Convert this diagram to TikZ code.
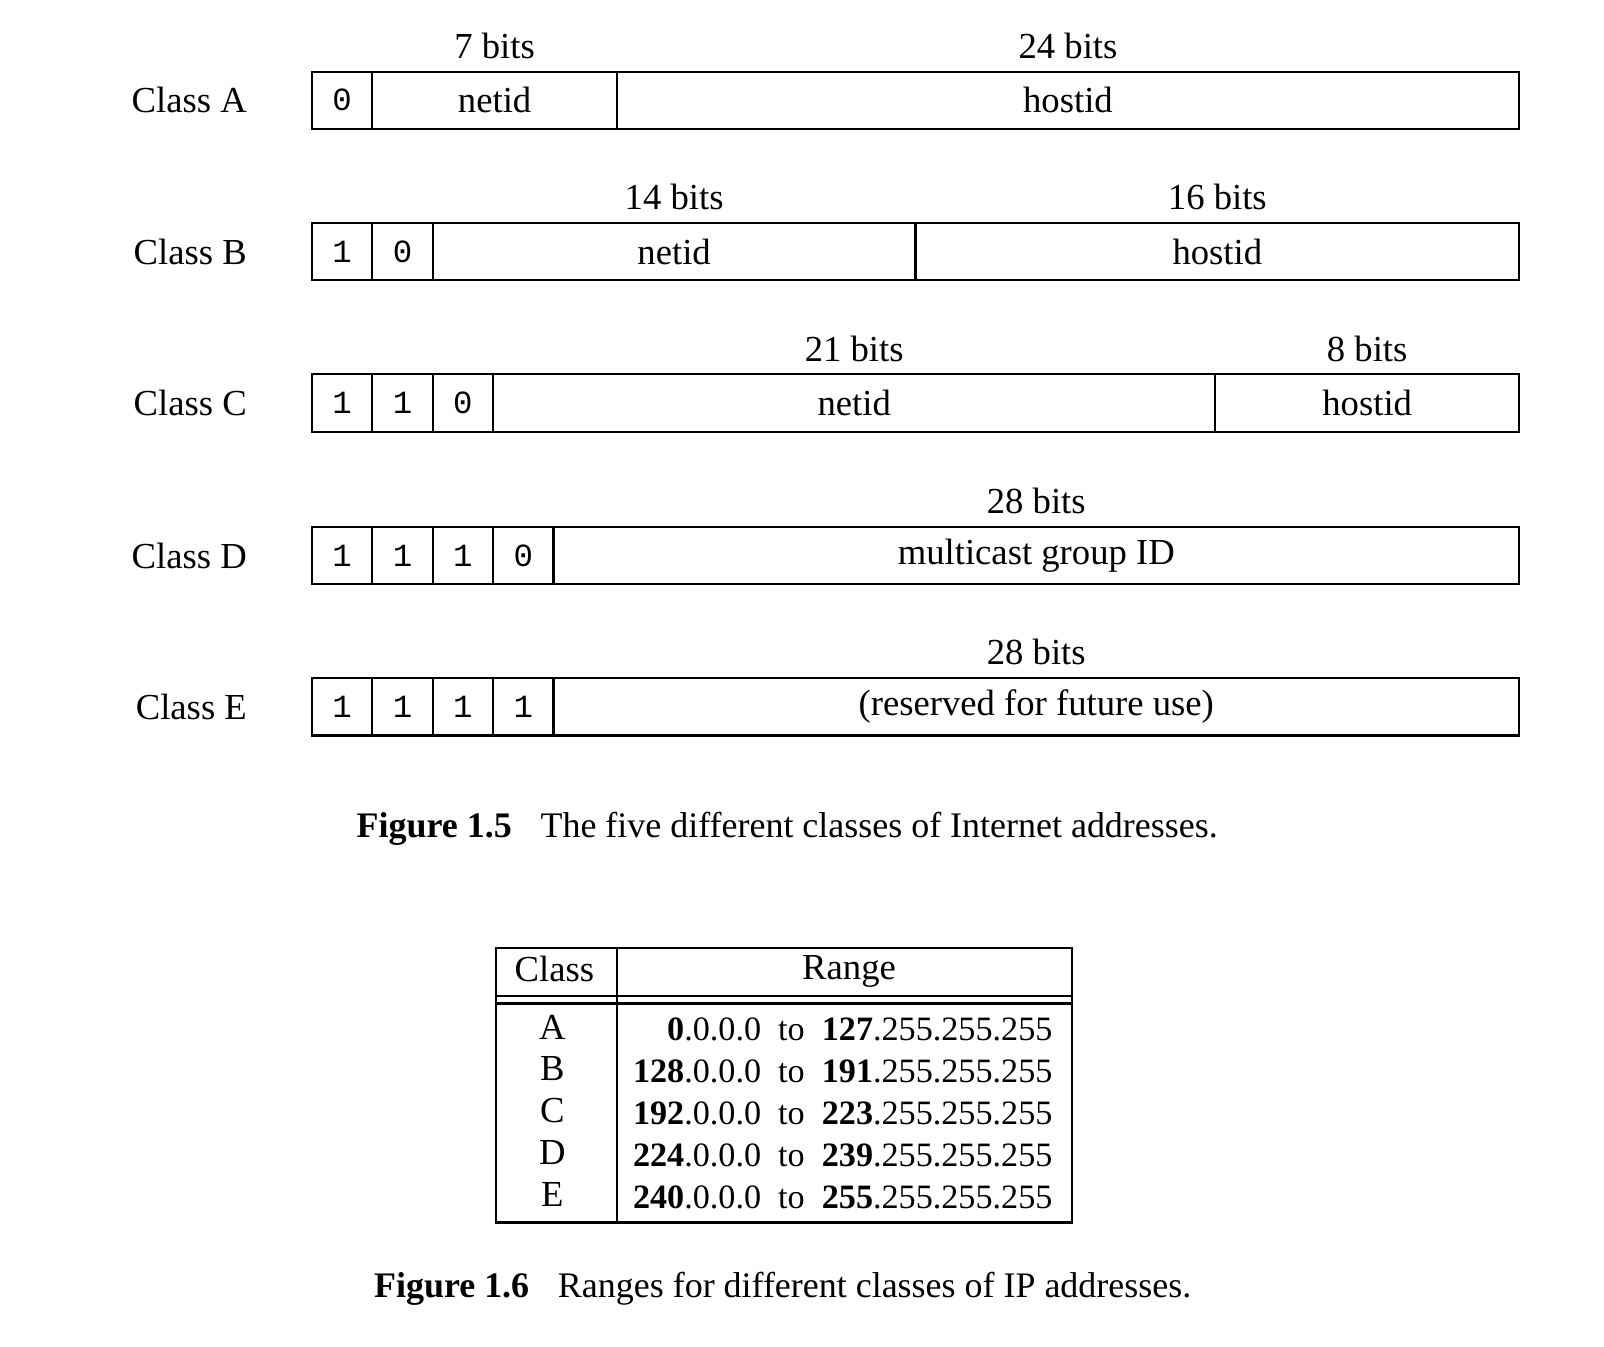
\documentclass[tikz,border=0pt]{standalone}
\usepackage{fontspec}
\setmainfont{Liberation Serif}
\setmonofont{Liberation Mono}
\usetikzlibrary{positioning}
\newcommand{\bodysize}{\fontsize{10.2}{12}\selectfont}
\newcommand{\rangesize}{\fontsize{9.5}{11}\selectfont}
\tikzset{
  bitcell/.style={draw,semithick,minimum width=5.9mm,minimum height=5.6mm,
    inner sep=0pt,outer sep=0pt,font=\fontsize{9}{11}\selectfont\ttfamily},
  field/.style={draw,semithick,minimum height=5.6mm,inner sep=0pt,outer sep=0pt,
    font=\bodysize},
  bitslabel/.style={font=\bodysize,inner sep=1pt},
  classlabel/.style={font=\bodysize,inner sep=0pt},
  tabtext/.style={font=\bodysize,inner sep=1pt},
  rangetext/.style={font=\rangesize,inner sep=1pt,anchor=east},
  figcaption/.style={font=\fontsize{10}{12}\selectfont,anchor=west,inner sep=0pt}
}

\begin{document}
\begin{tikzpicture}
  \useasboundingbox (0,0) rectangle (15.68,-13.16);
  % class A
  \node[bitcell,anchor=west] (a1) at (3.05,-0.98) {0};
  \node[field,minimum width=23.9mm,right=0pt of a1] (anet) {netid};
  \node[field,minimum width=88.2mm,right=0pt of anet] (ahost) {hostid};
  \node[classlabel,left=6.3mm of a1] (aname) {Class A};
  \node[bitslabel,above=2.4pt of anet] (anetbits) {7 bits};
  \node[bitslabel,above=2.4pt of ahost] (ahostbits) {24 bits};
  % class B
  \node[bitcell,anchor=west] (b1) at (3.05,-2.46) {1};
  \node[bitcell,right=0pt of b1] (b2) {0};
  \node[field,minimum width=47.2mm,right=0pt of b2] (bnet) {netid};
  \node[field,minimum width=59mm,right=0pt of bnet] (bhost) {hostid};
  \node[classlabel,left=6.3mm of b1] (bname) {Class B};
  \node[bitslabel,above=2.4pt of bnet] (bnetbits) {14 bits};
  \node[bitslabel,above=2.4pt of bhost] (bhostbits) {16 bits};
  % class C
  \node[bitcell,anchor=west] (c1) at (3.05,-3.94) {1};
  \node[bitcell,right=0pt of c1] (c2) {1};
  \node[bitcell,right=0pt of c2] (c3) {0};
  \node[field,minimum width=70.6mm,right=0pt of c3] (cnet) {netid};
  \node[field,minimum width=29.7mm,right=0pt of cnet] (chost) {hostid};
  \node[classlabel,left=6.3mm of c1] (cname) {Class C};
  \node[bitslabel,above=2.4pt of cnet] (cnetbits) {21 bits};
  \node[bitslabel,above=2.4pt of chost] (chostbits) {8 bits};
  % class D
  \node[bitcell,anchor=west] (d1) at (3.05,-5.43) {1};
  \node[bitcell,right=0pt of d1] (d2) {1};
  \node[bitcell,right=0pt of d2] (d3) {1};
  \node[bitcell,right=0pt of d3] (d4) {0};
  \node[field,minimum width=94.4mm,right=0pt of d4] (dgroup) {multicast group ID};
  \node[classlabel,left=6.3mm of d1] (dname) {Class D};
  \node[bitslabel,above=2.4pt of dgroup] (dgroupbits) {28 bits};
  % class E
  \node[bitcell,anchor=west] (e1) at (3.05,-6.91) {1};
  \node[bitcell,right=0pt of e1] (e2) {1};
  \node[bitcell,right=0pt of e2] (e3) {1};
  \node[bitcell,right=0pt of e3] (e4) {1};
  \node[field,minimum width=94.4mm,right=0pt of e4] (ereserved) {(reserved for future use)};
  \node[classlabel,left=6.3mm of e1] (ename) {Class E};
  \node[bitslabel,above=2.4pt of ereserved] (ereservedbits) {28 bits};

  \node[figcaption] (capclasses) at (3.48,-8.10)
    {\textbf{Figure 1.5}\hspace{0.8em}The five different classes of Internet addresses.};

  % range table
  \draw[semithick] (4.85,-9.27) rectangle (10.48,-11.95);
  \draw[semithick] (6.03,-9.27) -- (6.03,-11.95);
  \draw[semithick] (4.85,-9.74) -- (10.48,-9.74);
  \draw[semithick] (4.85,-9.81) -- (10.48,-9.81);
  \node[tabtext] (thclass) at (5.42,-9.47) {Class};
  \node[tabtext] (thrange) at (8.30,-9.50) {Range};
  \node[tabtext] (tA) at (5.40,-10.04) {A};
  \node[tabtext] (tB) at (5.40,-10.45) {B};
  \node[tabtext] (tC) at (5.40,-10.86) {C};
  \node[tabtext] (tD) at (5.40,-11.27) {D};
  \node[tabtext] (tE) at (5.40,-11.68) {E};
  \node[rangetext] (rA) at (10.33,-10.06)
    {\textbf{0}.0.0.0~~to~~\textbf{127}.255.255.255};
  \node[rangetext] (rB) at (10.33,-10.47)
    {\textbf{128}.0.0.0~~to~~\textbf{191}.255.255.255};
  \node[rangetext] (rC) at (10.33,-10.88)
    {\textbf{192}.0.0.0~~to~~\textbf{223}.255.255.255};
  \node[rangetext] (rD) at (10.33,-11.29)
    {\textbf{224}.0.0.0~~to~~\textbf{239}.255.255.255};
  \node[rangetext] (rE) at (10.33,-11.70)
    {\textbf{240}.0.0.0~~to~~\textbf{255}.255.255.255};

  \node[figcaption] (capranges) at (3.65,-12.60)
    {\textbf{Figure 1.6}\hspace{0.8em}Ranges for different classes of IP addresses.};
\end{tikzpicture}
\end{document}
